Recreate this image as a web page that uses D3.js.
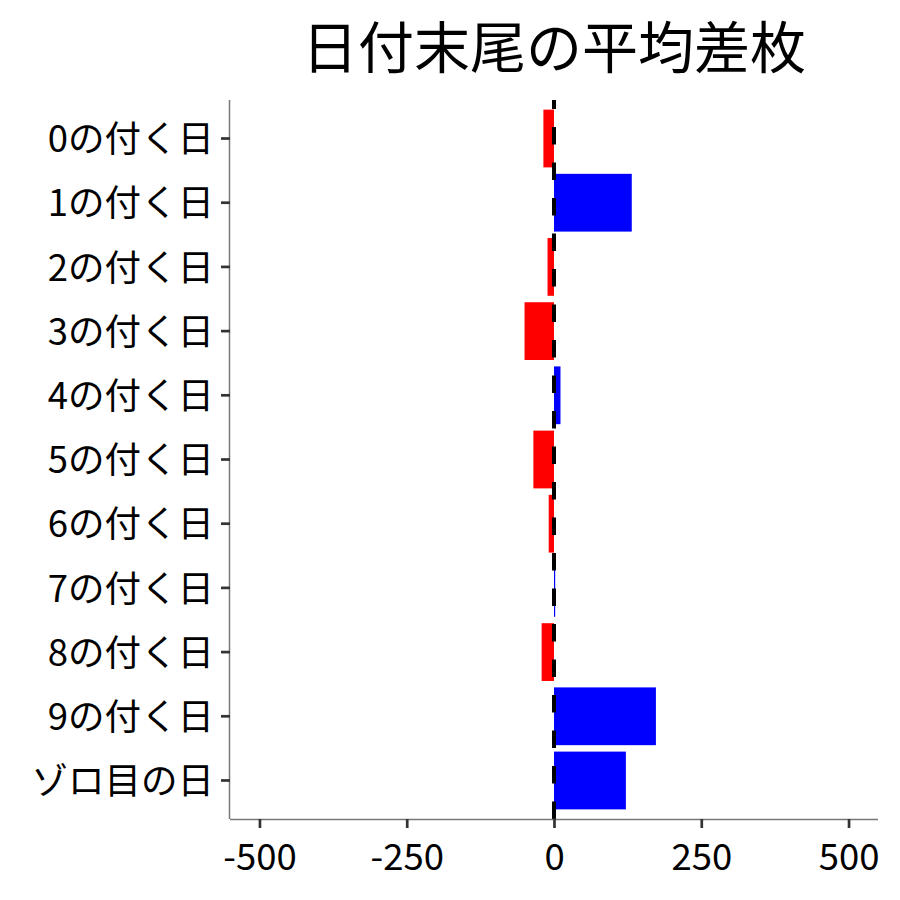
<!DOCTYPE html>
<html>
  <head>
    <meta charset="utf-8">
    <title>日付末尾の平均差枚</title>
    <script src="https://d3js.org/d3.v7.min.js"></script>
    <style>
      body { margin: 0; background: #fff; }
      svg text { font-family: "Noto Sans CJK JP", "Noto Sans", sans-serif; }
    </style>
  </head>
  <body>
    <svg id="chart" width="900" height="900"></svg>
    <script>
      // data
      const categories = ["0の付く日", "1の付く日", "2の付く日", "3の付く日", "4の付く日",
        "5の付く日", "6の付く日", "7の付く日", "8の付く日", "9の付く日", "ゾロ目の日"];
      const diffs = [-18, 132, -11, -50, 11, -35, -9, 2, -21, 173, 122];
      const xTicks = [-500, -250, 0, 250, 500];

      const width = 900, height = 900;
      const margin = {top: 100, right: 22, bottom: 81, left: 230};

      const svg = d3.select("#chart");

      const x = d3.scaleLinear()
        .domain([-550, 550])
        .range([margin.left, width - margin.right]);

      const y = d3.scaleBand()
        .domain(categories)
        .range([margin.top, height - margin.bottom])
        .paddingInner(0.1)
        .paddingOuter(0.15);

      // bars
      svg.append("g")
        .selectAll("rect")
        .data(categories)
        .join("rect")
        .attr("x", (d, i) => x(Math.min(0, diffs[i])))
        .attr("width", (d, i) => Math.abs(x(diffs[i]) - x(0)))
        .attr("y", d => y(d))
        .attr("height", y.bandwidth())
        .attr("fill", (d, i) => diffs[i] < 0 ? "#ff0000" : "#0000ff");

      // dashed zero line, drawn from the bottom up
      svg.append("line")
        .attr("x1", x(0)).attr("x2", x(0))
        .attr("y1", height - margin.bottom).attr("y2", margin.top)
        .attr("stroke", "#000")
        .attr("stroke-width", 4)
        .attr("stroke-dasharray", "17.5,18");

      // axes
      const xAxis = svg.append("g")
        .attr("transform", `translate(0,${height - margin.bottom})`)
        .call(d3.axisBottom(x).tickValues(xTicks).tickSize(9).tickPadding(16).tickFormat(d => String(d)));

      const yAxis = svg.append("g")
        .attr("transform", `translate(${margin.left},0)`)
        .call(d3.axisLeft(y).tickSize(9).tickPadding(7));

      [xAxis, yAxis].forEach(g => {
        g.select(".domain").attr("stroke", "#777").attr("stroke-width", 1.5);
        g.selectAll(".tick line").attr("stroke", "#333").attr("stroke-width", 2.7);
        g.selectAll(".tick text")
          .attr("fill", "#000")
          .style("font-size", "36.5px")
          .style("font-family", "'Noto Sans CJK JP', sans-serif");
      });
      yAxis.selectAll(".tick text").attr("y", 2);
      // d3 domain has outer ticks; flatten them away
      xAxis.select(".domain").attr("d", `M${margin.left},0.5H${width - margin.right}`);
      yAxis.select(".domain").attr("d", `M-0.5,${margin.top}V${height - margin.bottom}`);

      // title
      svg.append("text")
        .attr("x", (margin.left + width - margin.right) / 2)
        .attr("y", 68)
        .attr("text-anchor", "middle")
        .style("font-size", "56px")
        .text("日付末尾の平均差枚");
    </script>
  </body>
</html>
